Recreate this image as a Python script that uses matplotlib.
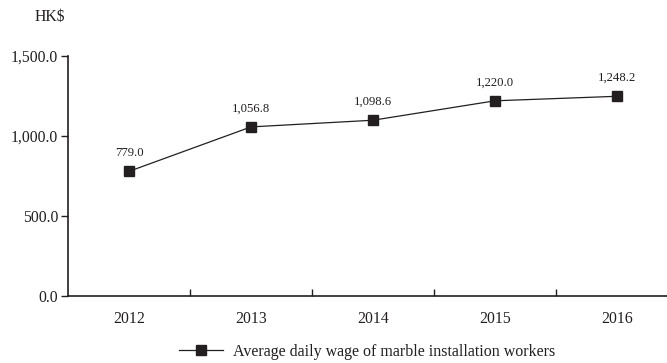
import matplotlib.pyplot as plt
from matplotlib.ticker import FuncFormatter

# Datos
years = ['2012', '2013', '2014', '2015', '2016']
wages = [779.0, 1056.8, 1098.6, 1220.0, 1248.2]
serie = 'Average daily wage of marble installation workers'

plt.rcParams['font.family'] = ['Liberation Serif', 'DejaVu Serif']
color = '#231f20'

fig = plt.figure(figsize=(6.67, 3.63), dpi=100)
ax = fig.add_axes([68 / 667, 67 / 363, 599 / 667, 240 / 363])

x = list(range(len(years)))
linea, = ax.plot(x, wages, color=color, lw=0.9, marker='s', markersize=7.5,
                 markerfacecolor=color, markeredgecolor=color, label=serie)

for xi, v in zip(x, wages):
    ax.annotate(f'{v:,.1f}', (xi, v), xytext=(0, 9), textcoords='offset points',
                ha='center', va='bottom', fontsize=9.2, color=color)

ax.set_xlim(-0.5, 4.41)
ax.set_ylim(0, 1500)
ax.set_yticks([0, 500, 1000, 1500])
ax.yaxis.set_major_formatter(FuncFormatter(lambda v, p: f'{v:,.1f}'))

# ticks entre categorias, hacia arriba
ax.set_xticks([0.5, 1.5, 2.5, 3.5])
ax.set_xticklabels([])
ax.tick_params(axis='x', direction='in', length=5, width=1, color=color)
ax.set_xticks(x, minor=True)
ax.set_xticklabels(years, minor=True)
ax.tick_params(axis='x', which='minor', length=0, pad=11, labelsize=11.3, labelcolor=color)
ax.tick_params(axis='y', direction='out', length=5, width=1, color=color,
               labelsize=11.3, labelcolor=color, pad=2)

for s in ['top', 'right']:
    ax.spines[s].set_visible(False)
for s in ['left', 'bottom']:
    ax.spines[s].set_color(color)
    ax.spines[s].set_linewidth(1.2)

fig.text(35 / 667, 1 - 17 / 363, 'HK$', fontsize=11.3, color=color, va='center')

fig.legend(handles=[linea], loc='center', bbox_to_anchor=(367 / 667, 1 - 352 / 363),
           frameon=False, fontsize=11.5, handlelength=2.8, handletextpad=0.6,
           labelcolor=color)

plt.savefig('out.png', dpi=100)
